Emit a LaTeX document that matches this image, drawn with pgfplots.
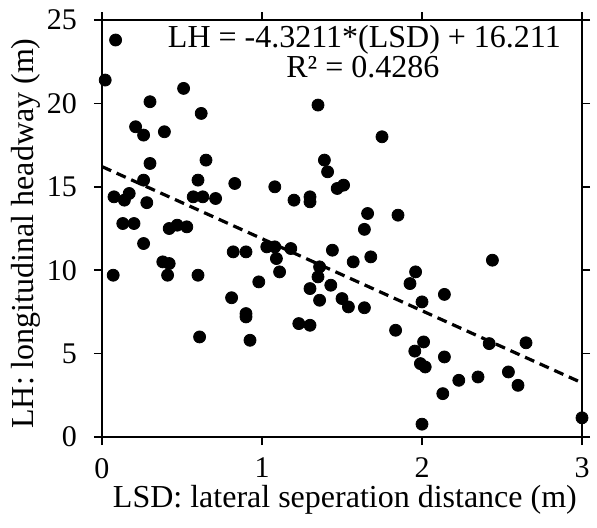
\documentclass[border=0pt]{standalone}
\usepackage{pgfplots}
\pgfplotsset{compat=1.18}
\usepackage{fontspec}
\setmainfont{Liberation Serif}
\pgfplotstableread{
x y
0.085 23.8
0.02 21.4
0.51 20.9
0.30 20.1
0.62 19.4
0.21 18.6
0.26 18.1
0.39 18.3
0.30 16.4
0.65 16.6
0.26 15.4
0.60 15.4
0.83 15.2
0.075 14.4
0.14 14.2
0.17 14.6
0.28 14.05
0.57 14.4
0.63 14.4
0.71 14.3
0.13 12.8
0.20 12.8
0.26 11.6
0.42 12.5
0.47 12.7
0.53 12.6
0.82 11.1
0.90 11.1
1.03 11.4
1.08 11.4
0.38 10.5
0.42 10.4
0.41 9.7
0.07 9.7
0.60 9.7
0.98 9.3
0.81 8.35
0.90 7.4
0.90 7.2
0.61 6.0
0.925 5.8
1.35 19.9
1.75 18.0
1.39 16.6
1.41 15.9
1.08 15.0
1.20 14.2
1.30 14.4
1.30 14.1
1.47 14.9
1.51 15.1
1.66 13.4
1.64 12.45
1.85 13.3
1.09 10.7
1.11 9.9
1.18 11.3
1.44 11.2
1.36 10.2
1.35 9.6
1.30 8.9
1.43 9.1
1.57 10.5
1.68 10.8
1.96 9.9
1.925 9.2
1.36 8.2
1.50 8.3
1.54 7.8
1.64 7.75
1.23 6.8
1.30 6.7
1.835 6.4
2.00 8.1
1.955 5.15
2.01 5.7
1.99 4.4
2.02 4.2
2.00 0.77
2.44 10.6
2.14 8.55
2.14 4.8
2.42 5.6
2.65 5.65
2.23 3.4
2.35 3.6
2.54 3.9
2.60 3.1
2.13 2.6
3.00 1.15
}\datatable
\begin{document}
\begin{tikzpicture}
\begin{axis}[
  scale only axis,
  width=240pt, height=208.5pt,
  xmin=0, xmax=3, ymin=0, ymax=25,
  xtick={0,1,2,3}, ytick={0,5,10,15,20,25},
  tick align=outside,
  major tick length=4pt,
  tick style={black, line width=0.8pt},
  axis line style={black, line width=1pt},
  clip=false,
  /pgf/number format/assume math mode=true,
  ticklabel style={font=\fontsize{15}{18}\selectfont},
  xticklabel style={yshift=-3pt},
  yticklabel style={xshift=-5pt},
  label style={font=\fontsize{16}{19}\selectfont},
  xlabel={LSD: lateral seperation distance (m)},
  ylabel={LH: longitudinal headway (m)},
  xlabel style={at={(axis description cs:0.506,-0.168)}, anchor=base},
  ylabel style={at={(axis description cs:-0.1437,0.488)}, anchor=base},
]
\addplot[only marks, mark=*, mark size=3pt, black, mark options={fill=black, draw=black}] table[x=x,y=y] {\datatable};
\addplot[black, line width=1.6pt, dash pattern=on 5pt off 3pt] coordinates {(0,16.211) (3,3.2477)};
\node[anchor=base, font=\fontsize{16}{19}\selectfont] at (axis cs:1.64,23.36) {LH = -4.3211*(LSD) + 16.211};
\node[anchor=base, font=\fontsize{16}{19}\selectfont] at (axis cs:1.63,21.55) {R² = 0.4286};
\end{axis}
\pgfresetboundingbox
\path ([xshift=-51pt,yshift=-45pt]current axis.south west) rectangle ([xshift=7.5pt,yshift=10pt]current axis.north east);
\end{tikzpicture}
\end{document}
